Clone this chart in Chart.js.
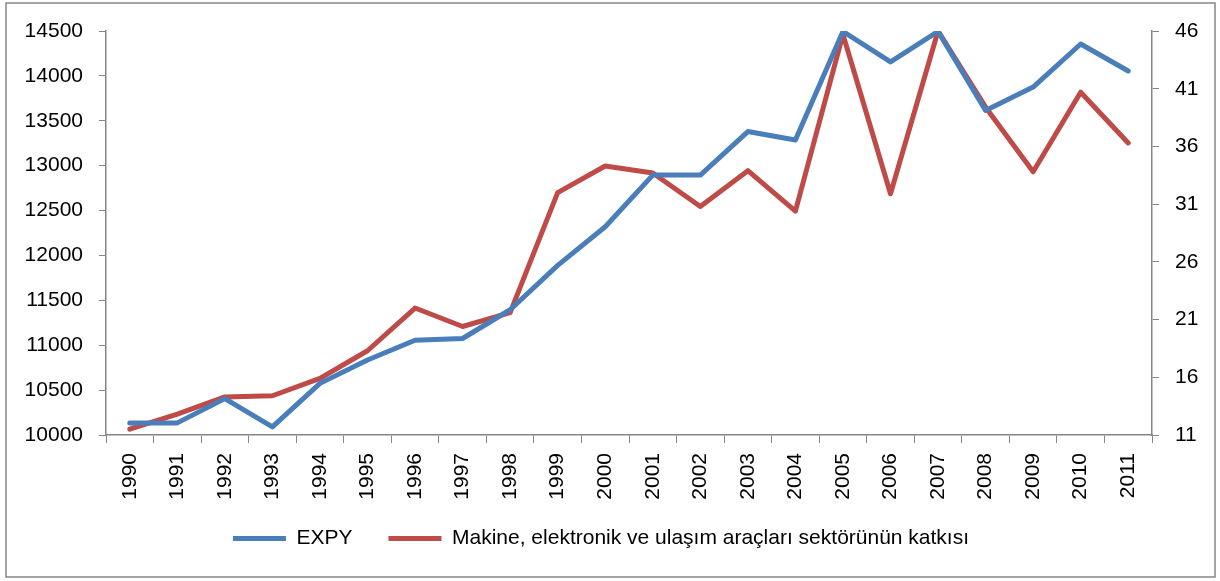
<!DOCTYPE html>
<html>
<head>
<meta charset="utf-8">
<title>EXPY</title>
<script src="https://cdn.jsdelivr.net/npm/chart.js@4/dist/chart.umd.min.js"></script>
<style>
  body { margin: 0; background: #fff; }
</style>
</head>
<body>
<canvas id="chart" width="1220" height="581"></canvas>
<script>
// yillar
var years = ['1990','1991','1992','1993','1994','1995','1996','1997','1998','1999','2000',
             '2001','2002','2003','2004','2005','2006','2007','2008','2009','2010','2011'];
// EXPY (sol eksen)
var expy = [10135, 10135, 10405, 10090, 10575, 10835, 11055, 11075, 11395, 11890, 12320,
            12895, 12895, 13380, 13285, 14495, 14155, 14495, 13615, 13875, 14355, 14055];
// sektor katkisi (sag eksen)
var katki = [11.5, 12.8, 14.3, 14.4, 15.9, 18.3, 22.0, 20.4, 21.6, 32.0, 34.3,
             33.7, 30.8, 33.9, 30.4, 45.7, 31.9, 46.0, 39.4, 33.8, 40.7, 36.3];
var leftTicks = [10000, 14500, 500];
var rightTicks = [11, 46, 5];

var axisColor = '#868686';
var font = { family: 'Liberation Sans', size: 21 };

Chart.defaults.color = '#000';

// cerceve + legend yeri
var frame = {
    id: 'frame',
    afterLayout: function(chart){
        // legend'i biraz asagi ve sola al
        chart.legend.top = 492;
        chart.legend.left -= 9;
        chart.legend.right -= 9;
    },
    afterDraw: function(chart){
        var ctx = chart.ctx;
        ctx.save();
        ctx.strokeStyle = axisColor;
        ctx.lineWidth = 1.5;
        ctx.strokeRect(6, 3, 1209, 574);
        ctx.restore();
    }
};

new Chart(document.getElementById('chart'), {
    type: 'line',
    data: {
        labels: years,
        datasets: [{
            label: 'EXPY',
            data: expy,
            yAxisID: 'y',
            borderColor: '#4A7EBB',
            backgroundColor: '#4A7EBB',
            borderWidth: 5,
            borderJoinStyle: 'round',
            borderCapStyle: 'round',
            pointRadius: 0,
            tension: 0
        }, {
            label: 'Makine, elektronik ve ulaşım araçları sektörünün katkısı',
            data: katki,
            yAxisID: 'y1',
            borderColor: '#BE4B48',
            backgroundColor: '#BE4B48',
            borderWidth: 5,
            borderJoinStyle: 'round',
            borderCapStyle: 'round',
            pointRadius: 0,
            tension: 0
        }]
    },
    options: {
        responsive: false,
        animation: false,
        layout: { padding: { top: 31, bottom: 21, left: 0, right: 0 } },
        plugins: {
            tooltip: { enabled: false },
            legend: {
                position: 'bottom',
                maxHeight: 60,
                labels: {
                    usePointStyle: true,
                    pointStyle: 'line',
                    pointStyleWidth: 53,
                    padding: 36,
                    font: font,
                    color: '#000'
                }
            }
        },
        scales: {
            x: {
                offset: true,
                grid: { offset: true, drawOnChartArea: false, drawTicks: true, tickLength: 8, color: axisColor },
                border: { color: axisColor, width: 1.5 },
                ticks: { autoSkip: false, minRotation: 90, maxRotation: 90, padding: 10, font: font, color: '#000' },
                afterFit: function(scale){ scale.height = 65; }
            },
            y: {
                position: 'left',
                min: leftTicks[0],
                max: leftTicks[1],
                grid: { drawOnChartArea: false, drawTicks: true, tickLength: 7, color: axisColor },
                border: { color: axisColor, width: 1.5 },
                ticks: {
                    stepSize: leftTicks[2], padding: 16, font: font, color: '#000',
                    callback: function(v){ return String(v); }
                },
                afterFit: function(scale){ scale.width = 106; }
            },
            y1: {
                position: 'right',
                min: rightTicks[0],
                max: rightTicks[1],
                grid: { drawOnChartArea: false, drawTicks: true, tickLength: 7, color: axisColor },
                border: { color: axisColor, width: 1.5 },
                ticks: {
                    stepSize: rightTicks[2], padding: 16, font: font, color: '#000',
                    callback: function(v){ return String(v); }
                },
                afterFit: function(scale){ scale.width = 68; }
            }
        }
    },
    plugins: [frame]
});
</script>
</body>
</html>
